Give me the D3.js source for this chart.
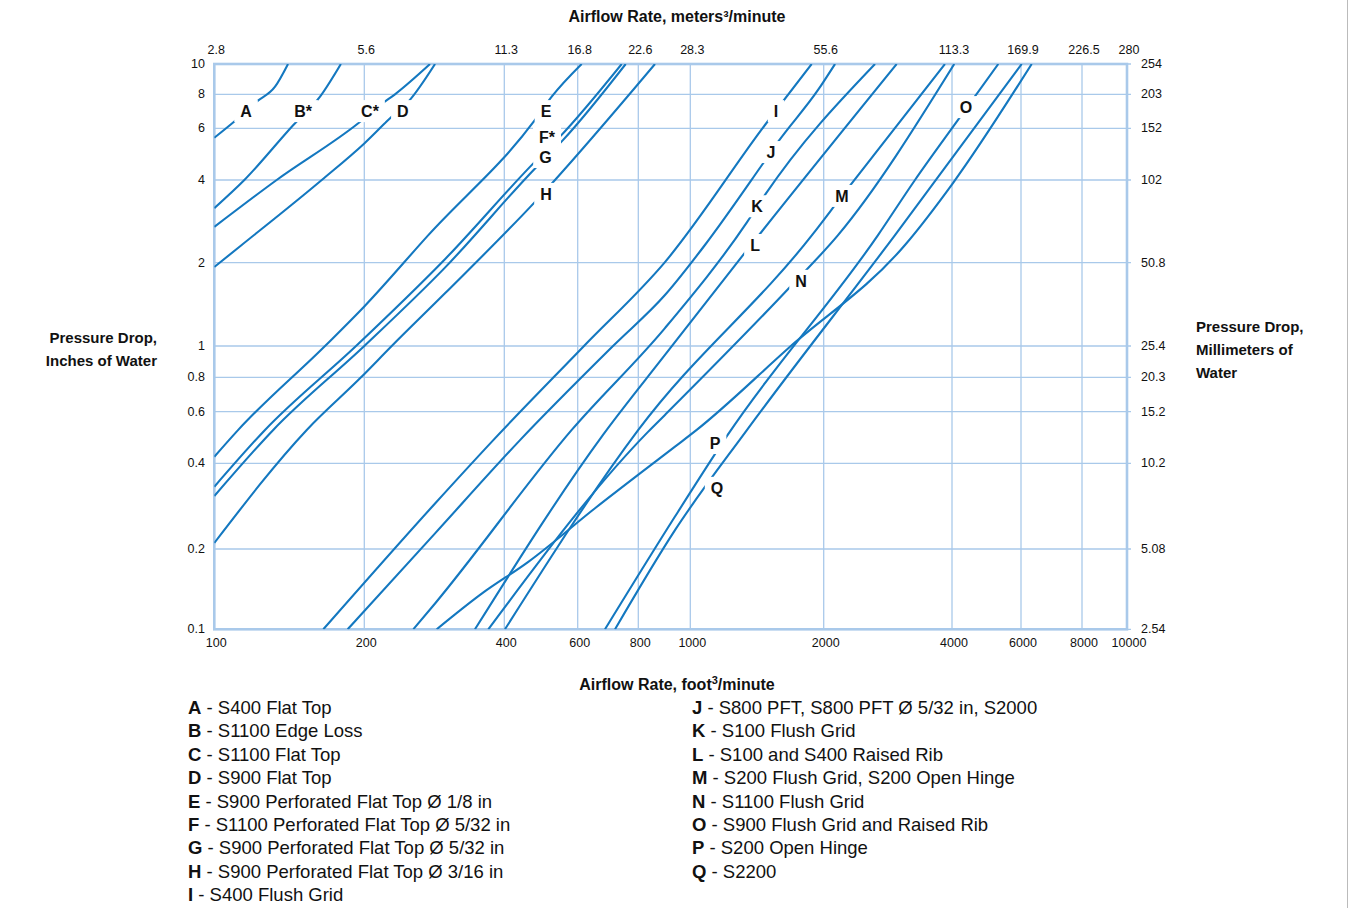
<!DOCTYPE html>
<html><head><meta charset="utf-8">
<script src="https://cdn.jsdelivr.net/npm/d3@7"></script>
<style>
body{margin:0;background:#fff;}
svg{display:block;font-family:"Liberation Sans",Arial,Helvetica,sans-serif;}
</style></head><body>
<svg id="chart" width="1350" height="908"></svg>
<script>
// ---------------- DATA ----------------
const xTickValues = [100,200,400,600,800,1000,2000,4000,6000,8000,10000];
const xBottomLabels = ["100","200","400","600","800","1000","2000","4000","6000","8000","10000"];
const xTopLabels = ["2.8","5.6","11.3","16.8","22.6","28.3","55.6","113.3","169.9","226.5","280"];
const yTickValues = [0.1,0.2,0.4,0.6,0.8,1,2,4,6,8,10];
const yLeftLabels = ["0.1","0.2","0.4","0.6","0.8","1","2","4","6","8","10"];
const yRightLabels = ["2.54","5.08","10.2","15.2","20.3","25.4","50.8","102","152","203","254"];

// curves: [airflow cfm, pressure drop inches of water]
const curveA = [[100,5.57],[110,6.38],[121.6,7.51],[132.4,8.46],[140.6,10]];
const curveB = [[100,3.16],[114.9,4],[144.1,6.17],[163,7.84],[179.5,10]];
const curveC = [[100,2.70],[133.4,4],[194.5,6.26],[218,7.37],[232.8,8],[276.9,10]];
const curveD = [[100,1.93],[113.5,2.32],[164.3,4],[200,5.33],[227.2,6.53],[248.7,7.51],[283.9,10]];
const curveE = [[100,0.421],[111.7,0.52],[166.8,1],[200,1.39],[274.6,2.52],[474,6.44],[519.8,7.84],[611.5,10]];
const curveF = [[100,0.331],[126.4,0.52],[192.5,1],[298.2,2.06],[474,4.62],[544,5.62],[739.4,10]];
const curveG = [[100,0.307],[131.3,0.52],[200,1],[298.2,1.92],[474,4.38],[553,5.47],[753.6,10]];
const curveH = [[100,0.210],[153.3,0.52],[197,0.8],[229.1,1],[298.2,1.55],[474,3.33],[859.4,10]];
const curveI = [[165.5,0.1],[283.9,0.289],[378.8,0.48],[618.2,1],[897,2.01],[1474,6.17],[1879,10]];
const curveJ = [[185.2,0.1],[283.9,0.227],[436.3,0.48],[709.5,1],[897,1.528],[1079,2.32],[1451,4.5],[1577,5.39],[1942,8.26],[2126,10]];
const curveK = [[254.9,0.1],[283.9,0.125],[580.5,0.52],[897,1.161],[1343,2.81],[1474,3.53],[2639,10]];
const curveL = [[345.9,0.1],[676.6,0.5],[897,0.938],[1315,2.13],[2967,10]];
const curveM = [[401.5,0.1],[800,0.52],[1882,2.52],[2208,3.5],[3851,10]];
const curveN = [[369.5,0.1],[834,0.512],[897,0.585],[1679,1.634],[2161,2.52],[4054,10]];
const curveO = [[683,0.1],[936.4,0.26],[1210,0.496],[2682,2.52],[3275,4],[4144,6.44],[5251,10]];
const curveP = [[286.2,0.1],[357.7,0.136],[456.7,0.179],[651.4,0.278],[936.4,0.456],[1033.8,0.52],[1664,0.984],[3103,2.32],[4023,3.9],[6311,10]];
const curveQ = [[716.2,0.1],[936.4,0.233],[1343,0.52],[2940,2.52],[6020,10]];

// label anchors [text, cfm, inches]
const curveLabels = [
  ["A",115.8,6.94],["B*",150.7,6.94],["C*",205.7,6.94],["D",242.1,6.94],
  ["E",503.6,6.94],["F*",506.4,5.61],["G",502,4.79],["H",503.6,3.56],
  ["I",1561,6.94],["J",1521,4.98],["K",1414,3.21],["L",1400,2.32],
  ["M",2208,3.5],["N",1778,1.72],["O",4343,7.18],["P",1137,0.469],["Q",1149,0.328]
];

const legendLeft = [
  ["A","S400 Flat Top"],["B","S1100 Edge Loss"],["C","S1100 Flat Top"],["D","S900 Flat Top"],
  ["E","S900 Perforated Flat Top Ø 1/8 in"],["F","S1100 Perforated Flat Top Ø 5/32 in"],
  ["G","S900 Perforated Flat Top Ø 5/32 in"],["H","S900 Perforated Flat Top Ø 3/16 in"],
  ["I","S400 Flush Grid"]
];
const legendRight = [
  ["J","S800 PFT, S800 PFT Ø 5/32 in, S2000"],["K","S100 Flush Grid"],
  ["L","S100 and S400 Raised Rib"],["M","S200 Flush Grid, S200 Open Hinge"],
  ["N","S1100 Flush Grid"],["O","S900 Flush Grid and Raised Rib"],
  ["P","S200 Open Hinge"],["Q","S2200"]
];

// ---------------- LAYOUT ----------------
const xGridPx = [214.3,364.3,504.3,577.7,638.3,690.3,823.7,952,1021,1082,1127];
const yGridPx = [629.3,549,463.3,411.7,377.3,346,262.7,180,128.3,94.3,64];
const gridColor = "#a9c9ea";
const lineColor = "#1478c0";

const svg = d3.select("#chart");
const x = d3.scaleLog().domain(xTickValues).range(xGridPx);
const y = d3.scaleLog().domain(yTickValues).range(yGridPx);
const x0 = x(100), x1 = x(10000), y0 = y(10), y1 = y(0.1);

svg.append("defs").append("clipPath").attr("id","clip")
  .append("rect").attr("x",x0).attr("y",y0).attr("width",x1-x0).attr("height",y1-y0);

svg.append("line").attr("x1",1347.5).attr("x2",1347.5).attr("y1",0).attr("y2",908)
  .attr("stroke","#bbb").attr("stroke-width",1);

// grid
const g = svg.append("g");
g.selectAll(".vg").data(xTickValues).join("line")
  .attr("x1",d=>x(d)).attr("x2",d=>x(d)).attr("y1",y0).attr("y2",y1)
  .attr("stroke",gridColor).attr("stroke-width",1.3);
g.selectAll(".hg").data(yTickValues).join("line")
  .attr("x1",x0).attr("x2",x1+4).attr("y1",d=>y(d)).attr("y2",d=>y(d))
  .attr("stroke",gridColor).attr("stroke-width",1.3);
g.append("rect").attr("x",x0).attr("y",y0).attr("width",x1-x0).attr("height",y1-y0)
  .attr("fill","none").attr("stroke",gridColor).attr("stroke-width",2.6);

// curves
const series = [curveA,curveB,curveC,curveD,curveE,curveF,curveG,curveH,curveI,curveJ,curveK,curveL,curveM,curveN,curveO,curveP,curveQ];
const line = d3.line().x(d=>x(d[0])).y(d=>y(d[1])).curve(d3.curveMonotoneX);
svg.append("g").attr("clip-path","url(#clip)")
  .selectAll("path").data(series).join("path")
  .attr("d",line).attr("fill","none").attr("stroke",lineColor).attr("stroke-width",2.1);

// curve labels
const lg = svg.append("g");
curveLabels.forEach(([t,cx,cy])=>{
  const gg = lg.append("g").attr("transform",`translate(${x(cx)},${y(cy)})`);
  const txt = gg.append("text").text(t).attr("text-anchor","middle").attr("dy","0.36em")
    .attr("font-size",16).attr("font-weight","bold").attr("fill","#111");
  const w = txt.node().getComputedTextLength();
  gg.insert("rect","text").attr("x",-w/2-6).attr("y",-11).attr("width",w+12).attr("height",22).attr("fill","#fff");
});

// tick labels
const tf = 12.5;
svg.append("g").selectAll("text").data(xTickValues).join("text")
  .attr("x",d=>x(d)+2).attr("y",647).attr("text-anchor","middle").attr("font-size",tf)
  .attr("fill","#111").text((d,i)=>xBottomLabels[i]);
svg.append("g").selectAll("text").data(xTickValues).join("text")
  .attr("x",d=>x(d)+2).attr("y",54).attr("text-anchor","middle").attr("font-size",tf)
  .attr("fill","#111").text((d,i)=>xTopLabels[i]);
svg.append("g").selectAll("text").data(yTickValues).join("text")
  .attr("x",205).attr("y",d=>y(d)+4).attr("text-anchor","end").attr("font-size",tf)
  .attr("fill","#111").text((d,i)=>yLeftLabels[i]);
svg.append("g").selectAll("text").data(yTickValues).join("text")
  .attr("x",1141).attr("y",d=>y(d)+4).attr("text-anchor","start").attr("font-size",tf)
  .attr("fill","#111").text((d,i)=>yRightLabels[i]);

// axis titles
svg.append("text").attr("x",677).attr("y",22).attr("text-anchor","middle")
  .attr("font-size",16).attr("font-weight","bold").attr("fill","#111")
  .text("Airflow Rate, meters³/minute");
const bt = svg.append("text").attr("x",677).attr("y",690).attr("text-anchor","middle")
  .attr("font-size",16).attr("font-weight","bold").attr("fill","#111");
bt.append("tspan").text("Airflow Rate, foot");
bt.append("tspan").text("3").attr("font-size",11).attr("dy",-6);
bt.append("tspan").text("/minute").attr("dy",6);
const lt = svg.append("text").attr("text-anchor","end").attr("font-size",15).attr("font-weight","bold").attr("fill","#111");
lt.append("tspan").attr("x",157).attr("y",343).text("Pressure Drop,");
lt.append("tspan").attr("x",157).attr("y",366).text("Inches of Water");
const rt = svg.append("text").attr("text-anchor","start").attr("font-size",15).attr("font-weight","bold").attr("fill","#111");
rt.append("tspan").attr("x",1196).attr("y",332).text("Pressure Drop,");
rt.append("tspan").attr("x",1196).attr("y",355).text("Millimeters of");
rt.append("tspan").attr("x",1196).attr("y",378).text("Water");

// legend
function legend(items, lx, ly){
  const lgd = svg.append("g");
  items.forEach(([k,v],i)=>{
    const t = lgd.append("text").attr("x",lx).attr("y",ly+i*23.4).attr("font-size",18.5).attr("fill","#111");
    t.append("tspan").attr("font-weight","bold").text(k);
    t.append("tspan").text(" - "+v);
  });
}
legend(legendLeft,188,714);
legend(legendRight,692,714);
</script>
</body></html>
